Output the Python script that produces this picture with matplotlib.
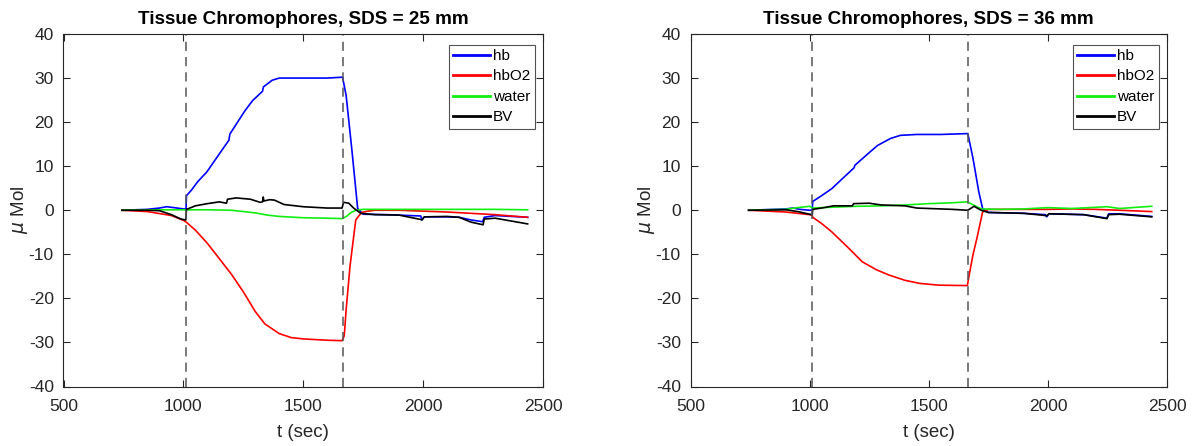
import matplotlib
matplotlib.use("Agg")
import matplotlib.pyplot as plt

plt.rcParams['font.family'] = ['Liberation Sans', 'DejaVu Sans']
plt.rcParams['mathtext.fontset'] = 'dejavusans'
plt.rcParams['axes.unicode_minus'] = False

# ---------------- data: SDS = 25 mm ----------------
t_hb_25 = [744, 850, 900, 930, 960, 1000, 1011, 1013, 1034, 1060, 1098, 1150, 1190, 1194, 1257, 1289,
           1330, 1334, 1370, 1400, 1500, 1600, 1664, 1679, 1703, 1727, 1750, 1850, 1990, 1995, 2005,
           2100, 2150, 2200, 2248, 2255, 2300, 2436]
v_hb_25 = [0, 0.2, 0.5, 0.8, 0.6, 0.3, 0.3, 3.3, 4.6, 6.5, 8.7, 12.8, 15.9, 17.3, 22.6, 24.9,
           27.0, 28.0, 29.5, 30.0, 30.0, 30.0, 30.2, 26.0, 13.6, 0.4, -0.9, -1.0, -1.3, -2.2, -1.5,
           -1.5, -1.6, -2.2, -2.6, -1.6, -1.2, -1.6]

t_hbo2_25 = [744, 850, 950, 1000, 1012, 1050, 1100, 1150, 1200, 1250, 1300, 1340, 1400, 1450, 1500,
             1600, 1662, 1671, 1679, 1695, 1719, 1743, 1770, 1800, 1900, 2000, 2100, 2200, 2300, 2436]
v_hbo2_25 = [0, -0.3, -1.2, -2.3, -2.7, -4.5, -7.5, -11.0, -14.5, -18.5, -23.0, -25.8, -28.0, -28.9, -29.2,
             -29.5, -29.6, -28.5, -22.5, -12.7, -2.2, -0.5, -0.2, 0.0, 0.0, -0.2, -0.4, -0.7, -1.0, -1.6]

t_water_25 = [744, 900, 1000, 1100, 1200, 1300, 1350, 1400, 1500, 1600, 1662, 1680, 1700, 1720, 1750,
              1900, 2100, 2300, 2436]
v_water_25 = [0, 0.1, 0.1, 0.1, 0.0, -0.6, -1.1, -1.4, -1.7, -1.8, -1.9, -1.4, -0.5, 0.0, 0.2,
              0.2, 0.2, 0.2, 0.1]

t_bv_25 = [744, 850, 900, 950, 990, 1010, 1013, 1050, 1100, 1150, 1180, 1184, 1220, 1280, 1320, 1330,
           1333, 1336, 1360, 1380, 1400, 1420, 1500, 1600, 1662, 1668, 1690, 1710, 1740, 1800, 1900,
           1990, 1995, 2005, 2100, 2150, 2200, 2250, 2255, 2300, 2436]
v_bv_25 = [0, 0, -0.1, -1.0, -2.0, -2.2, 0.2, 1.0, 1.5, 1.9, 1.6, 2.5, 2.8, 2.5, 1.8, 1.9,
           3.0, 2.1, 2.4, 2.3, 1.8, 1.3, 0.8, 0.5, 0.5, 1.8, 1.6, 0.5, -0.7, -1.0, -1.1,
           -2.1, -2.2, -1.5, -1.4, -1.6, -2.7, -3.3, -2.0, -1.8, -3.1]

# ---------------- data: SDS = 36 mm ----------------
t_hb_36 = [744, 900, 930, 960, 1000, 1011, 1013, 1050, 1093, 1150, 1186, 1190, 1240, 1285, 1340, 1381,
           1450, 1550, 1664, 1686, 1710, 1726, 1750, 1900, 1990, 1995, 2005, 2150, 2248, 2255, 2300, 2436]
v_hb_36 = [0, 0.3, 0.5, 0.2, 0.0, 0.0, 2.0, 3.3, 4.9, 7.8, 9.6, 10.2, 12.6, 14.7, 16.3, 17.0,
           17.2, 17.2, 17.4, 11.7, 4.2, 0.4, -0.5, -0.7, -1.0, -1.5, -0.8, -1.0, -1.8, -0.8, -0.8, -1.4]

t_hbo2_36 = [744, 900, 1000, 1011, 1013, 1050, 1093, 1160, 1221, 1280, 1333, 1400, 1462, 1542, 1662,
             1672, 1686, 1702, 1726, 1750, 1900, 2000, 2100, 2200, 2300, 2436]
v_hbo2_36 = [0, -0.4, -1.0, -1.2, -1.6, -3.0, -4.9, -8.4, -11.7, -13.5, -14.7, -15.9, -16.6, -17.0, -17.1,
             -14.0, -10.0, -6.4, -0.4, 0.2, 0.2, 0.2, 0.3, 0.2, 0.0, -0.3]

t_water_36 = [744, 900, 950, 1000, 1012, 1100, 1200, 1300, 1400, 1500, 1600, 1662, 1680, 1720, 1800,
              1900, 2000, 2100, 2250, 2300, 2436]
v_water_36 = [0, 0.2, 0.6, 0.9, 0.5, 0.7, 0.9, 1.0, 1.2, 1.5, 1.7, 1.9, 1.4, 0.3, 0.2,
              0.3, 0.6, 0.4, 0.8, 0.4, 0.9]

t_bv_36 = [744, 900, 950, 1000, 1011, 1013, 1050, 1100, 1180, 1184, 1250, 1300, 1350, 1400, 1450,
           1500, 1600, 1664, 1690, 1720, 1750, 1900, 1990, 1995, 2005, 2150, 2248, 2255, 2300, 2436]
v_bv_36 = [0, 0.1, -0.3, -0.9, -1.0, 0.2, 0.5, 1.0, 1.0, 1.5, 1.6, 1.2, 1.1, 1.0, 0.5,
           0.4, 0.2, 0.0, 0.9, 0.0, -0.5, -0.7, -1.2, -1.3, -0.8, -1.0, -1.9, -1.0, -0.9, -1.5]

event_times = [1012, 1666]
panels = [
    ("Tissue Chromophores, SDS = 25 mm",
     [(t_hb_25, v_hb_25), (t_hbo2_25, v_hbo2_25), (t_water_25, v_water_25), (t_bv_25, v_bv_25)]),
    ("Tissue Chromophores, SDS = 36 mm",
     [(t_hb_36, v_hb_36), (t_hbo2_36, v_hbo2_36), (t_water_36, v_water_36), (t_bv_36, v_bv_36)]),
]
series_names = ["hb", "hbO2", "water", "BV"]
series_colors = ["#0000ff", "#ff0000", "#11ee11", "#000000"]

x_ticks = [500, 1000, 1500, 2000, 2500]
y_ticks = [-40, -30, -20, -10, 0, 10, 20, 30, 40]

fig = plt.figure(figsize=(11.94, 4.46), dpi=100)
ax_rects = [[63.5 / 1194, 1 - 386.5 / 446, (543 - 63.5) / 1194, (386.5 - 34) / 446],
            [690.5 / 1194, 1 - 386.5 / 446, (1167 - 690.5) / 1194, (386.5 - 34) / 446]]

axc = '#262626'
for rect, (title, series) in zip(ax_rects, panels):
    ax = fig.add_axes(rect)
    for (t, v), name, c in zip(series, series_names, series_colors):
        ax.plot(t, v, color=c, lw=1.2, label=name)
    for et in event_times:
        ax.axvline(et, color='#555555', ls=(0, (6, 4)), lw=1.1)
    ax.set_xlim(500, 2500)
    ax.set_ylim(-40, 40)
    ax.set_xticks(x_ticks)
    ax.set_yticks(y_ticks)
    ax.tick_params(direction='in', top=True, right=True, length=5, width=0.8,
                   colors=axc, labelsize=12.5, labelcolor=axc)
    ax.tick_params(axis='x', pad=9)
    ax.tick_params(axis='y', pad=7)
    for sp in ax.spines.values():
        sp.set_color(axc)
        sp.set_linewidth(0.8)
    ax.set_title(title, fontsize=13.6, fontweight='bold', color='black', pad=7)
    ax.set_xlabel("t (sec)", fontsize=13.5, color=axc, labelpad=7)
    ax.set_ylabel(r"$\mu$ Mol", fontsize=13.5, color=axc, labelpad=-1)
    leg = ax.legend(loc='upper right', bbox_to_anchor=(1 - 8 / 479.5, 1 - 10.5 / 352.5),
                    borderaxespad=0, fontsize=11, frameon=True, fancybox=False,
                    edgecolor=axc, handlelength=2.4, handletextpad=0.2,
                    labelspacing=0.42, borderpad=0.3)
    leg.get_frame().set_linewidth(0.8)
    for line in leg.get_lines():
        line.set_linewidth(2)

fig.savefig("out.png", dpi=100)
